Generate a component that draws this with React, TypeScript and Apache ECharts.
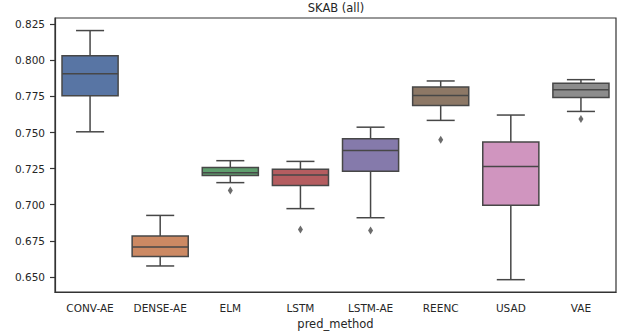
import React, { useEffect, useRef } from "react";
import * as echarts from "echarts";

const categories = ["CONV-AE", "DENSE-AE", "ELM", "LSTM", "LSTM-AE", "REENC", "USAD", "VAE"];
const lowWhisker = [0.7505, 0.6576, 0.7153, 0.6973, 0.691, 0.7584, 0.6481, 0.7646];
const q1 = [0.7755, 0.6642, 0.7203, 0.7133, 0.7232, 0.7687, 0.6997, 0.7743];
const median = [0.7907, 0.6708, 0.7221, 0.7205, 0.7375, 0.7757, 0.7264, 0.7796];
const q3 = [0.8032, 0.6783, 0.7257, 0.7246, 0.7457, 0.7816, 0.7435, 0.7841];
const highWhisker = [0.8206, 0.6926, 0.7305, 0.73, 0.7537, 0.7857, 0.7621, 0.7866];
const outliers: [string, number][] = [
  ["ELM", 0.7099],
  ["LSTM", 0.6828],
  ["LSTM-AE", 0.6821],
  ["REENC", 0.745],
  ["VAE", 0.7593],
];
const yTicks = [0.65, 0.675, 0.7, 0.725, 0.75, 0.775, 0.8, 0.825];
const colors = ["#5875a4", "#cc8963", "#5f9e6e", "#b55d60", "#857aab", "#8d7866", "#d095bf", "#8c8c8c"];

const LINE = "#474747";
const TEXT = "#262626";
const FONT = "DejaVu Sans";

export default function App() {
  const ref = useRef<HTMLDivElement>(null);
  useEffect(() => {
    if (!ref.current) return;
    const chart = echarts.init(ref.current, null, { renderer: "svg" });
    const boxData = categories.map((c, i) => [i, lowWhisker[i], q1[i], median[i], q3[i], highWhisker[i]]);
    chart.setOption({
      animation: false,
      backgroundColor: "#ffffff",
      graphic: [
        {
          type: "text",
          x: 336,
          y: 8,
          style: {
            text: "SKAB (all)",
            fontFamily: FONT,
            fontSize: 11.5,
            fill: TEXT,
            align: "center",
            verticalAlign: "middle",
          },
        },
      ],
      grid: { left: 55, right: 4, top: 18, bottom: 38.5, show: true, borderColor: "#333333", borderWidth: 1.2, backgroundColor: "transparent" },
      xAxis: {
        type: "category",
        data: categories,
        boundaryGap: true,
        name: "pred_method",
        nameLocation: "middle",
        nameGap: 25,
        nameTextStyle: { fontFamily: FONT, fontSize: 11.5, color: TEXT },
        axisLine: { lineStyle: { color: "#333333", width: 1.2 } },
        axisTick: { alignWithLabel: true, length: 4.5, lineStyle: { color: "#333333", width: 1.2 } },
        axisLabel: { fontFamily: FONT, fontSize: 10.5, color: TEXT, margin: 10, interval: 0 },
        splitLine: { show: false },
      },
      yAxis: {
        type: "value",
        min: 0.6395,
        max: 0.8293,
        axisLine: { show: true, lineStyle: { color: "#333333", width: 1.2 } },
        axisTick: { show: true, length: 5, customValues: yTicks, lineStyle: { color: "#333333", width: 1.2 } },
        axisLabel: {
          fontFamily: FONT,
          fontSize: 10.5,
          color: TEXT,
          margin: 10,
          customValues: yTicks,
          formatter: (v: number) => v.toFixed(3),
        },
        splitLine: { show: false },
      },
      series: [
        {
          type: "custom",
          data: boxData,
          encode: { x: 0, y: [1, 2, 3, 4, 5] },
          renderItem: (params: any, api: any) => {
            const idx = api.value(0);
            const w = api.size([1, 0])[0] * 0.8;
            const cw = w / 2;
            const lo = api.coord([idx, api.value(1)]);
            const a = api.coord([idx, api.value(2)]);
            const m = api.coord([idx, api.value(3)]);
            const b = api.coord([idx, api.value(4)]);
            const hi = api.coord([idx, api.value(5)]);
            const x = lo[0];
            const ls = { stroke: LINE, lineWidth: 1.5 };
            return {
              type: "group",
              children: [
                { type: "line", shape: { x1: x, y1: hi[1], x2: x, y2: b[1] }, style: ls },
                { type: "line", shape: { x1: x, y1: a[1], x2: x, y2: lo[1] }, style: ls },
                { type: "line", shape: { x1: x - cw / 2, y1: hi[1], x2: x + cw / 2, y2: hi[1] }, style: ls },
                { type: "line", shape: { x1: x - cw / 2, y1: lo[1], x2: x + cw / 2, y2: lo[1] }, style: ls },
                {
                  type: "rect",
                  shape: { x: x - w / 2, y: b[1], width: w, height: a[1] - b[1] },
                  style: { fill: colors[idx], stroke: LINE, lineWidth: 1.5 },
                },
                { type: "line", shape: { x1: x - w / 2, y1: m[1], x2: x + w / 2, y2: m[1] }, style: ls },
              ],
            };
          },
        },
        {
          type: "scatter",
          data: outliers,
          symbol: "diamond",
          symbolSize: [5, 8],
          itemStyle: { color: LINE },
        },
      ],
    });
    return () => chart.dispose();
  }, []);
  return <div ref={ref} style={{ position: "absolute", left: 0, top: 0, width: 620, height: 335 }} />;
}
